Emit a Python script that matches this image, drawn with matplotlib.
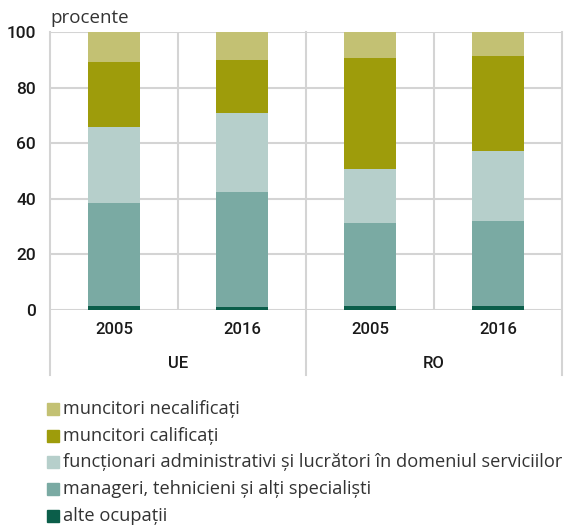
import matplotlib
matplotlib.use("Agg")
import matplotlib.pyplot as plt
from matplotlib.patches import Rectangle
from matplotlib.lines import Line2D
import numpy as np

groups = ["UE", "RO"]
years = ["2005", "2016", "2005", "2016"]
series_names = [
    "alte ocupații",
    "manageri, tehnicieni și alți specialiști",
    "funcționari administrativi și lucrători în domeniul serviciilor",
    "muncitori calificați",
    "muncitori necalificați",
]
alte = [1.5, 1.0, 1.6, 1.6]
manageri = [36.9, 41.6, 29.6, 30.4]
functionari = [27.5, 28.1, 19.5, 25.2]
calificati = [23.4, 19.2, 40.1, 34.3]
necalificati = [10.7, 10.1, 9.2, 8.5]
colors = ["#0b5e4a", "#7aaaa3", "#b6cfcb", "#9e9c0b", "#c3c173"]

cond = ["Roboto", "DejaVu Sans"]
light = ["Open Sans", "DejaVu Sans"]
tick_c = "#1a1a1a"

W, H = 567, 530
fig = plt.figure(figsize=(W / 100, H / 100), dpi=100)
ax = fig.add_axes([50 / W, 1 - 310 / H, 512 / W, 278 / H])

x = np.arange(len(years))
data = [alte, manageri, functionari, calificati, necalificati]
bottom = np.zeros(len(years))
for vals, c in zip(data, colors):
    ax.bar(x, vals, bottom=bottom, width=0.41, color=c, zorder=3)
    bottom += np.array(vals)

ax.set_xlim(-0.5, len(years) - 0.5)
ax.set_ylim(0, 100)
ax.set_yticks([0, 20, 40, 60, 80, 100])
ax.set_xticks([])
ax.tick_params(axis="y", length=0, pad=10, labelsize=12.5, labelcolor=tick_c)
for lab in ax.get_yticklabels():
    lab.set_fontfamily(cond)
    lab.set_fontweight("medium")
grid_c = "#d4d4d4"
for y in [0, 20, 40, 60, 80, 100]:
    ax.axhline(y, color=grid_c, lw=1.5, zorder=1)
for xv in [0.5, 2.5]:
    ax.axvline(xv, color=grid_c, lw=1.5, zorder=1)
for s in ["top", "right", "bottom", "left"]:
    ax.spines[s].set_visible(False)

for xv in [-0.5, 1.5, 3.5]:
    ax.add_line(Line2D([xv, xv], [100, -23.5], color=grid_c, lw=1.5,
                       clip_on=False, zorder=1))

for xi, yr in zip(x, years):
    ax.text(xi, -7, yr, ha="center", va="center", fontsize=12,
            family=cond, weight="medium", color=tick_c)
for gi, g in enumerate(groups):
    ax.text(gi * 2 + 0.5, -19.3, g, ha="center", va="center", fontsize=12,
            family=cond, weight="medium", color=tick_c)

fig.text(50 / W, 1 - 18 / H, "procente", ha="left", va="center",
         fontsize=13.5, family=light, color="#333333")

renderer = fig.canvas.get_renderer()
probe = fig.text(0, 0, series_names[2], fontsize=12, family=light)
wpx = probe.get_window_extent(renderer).width
probe.remove()
leg_fs = 12 * 498 / wpx

leg_order = [4, 3, 2, 1, 0]
y0 = 409
for i, si in enumerate(leg_order):
    yc = y0 + i * 26.7
    fig.patches.append(Rectangle((47 / W, 1 - (yc + 6) / H), 12 / W, 12 / H,
                                 transform=fig.transFigure, color=colors[si]))
    fig.text(63 / W, 1 - yc / H, series_names[si], ha="left", va="center",
             fontsize=leg_fs, family=light, color="#333333")

fig.savefig("out.png", dpi=100)
